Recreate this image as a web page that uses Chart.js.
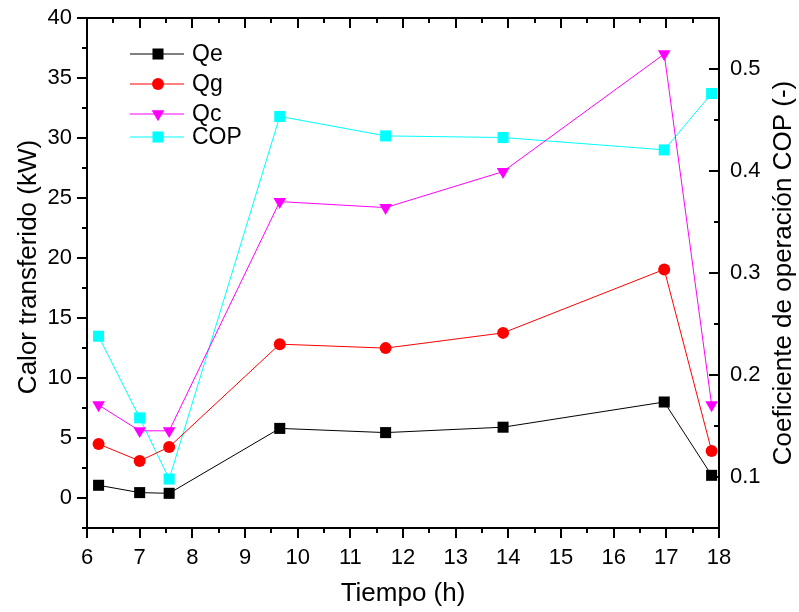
<!DOCTYPE html>
<html>
<head>
<meta charset="utf-8">
<script src="https://cdn.jsdelivr.net/npm/chart.js@4/dist/chart.umd.min.js"></script>
<style>
  html, body { margin: 0; padding: 0; background: #fff; }
  canvas { display: block; }
</style>
</head>
<body>
<canvas id="c" width="799" height="612"></canvas>
<script>
// Hours of the measurement campaign
const hours = [6.22, 7.0, 7.56, 9.66, 11.67, 13.9, 16.96, 17.86];
// Heat transferred (kW)
const qe = [1.06, 0.45, 0.39, 5.8, 5.45, 5.9, 8.0, 1.89];
const qg = [4.5, 3.09, 4.25, 12.82, 12.49, 13.76, 19.05, 3.92];
const qc = [7.75, 5.6, 5.6, 24.7, 24.2, 27.2, 37.0, 7.75];
// Coefficient of performance (-)
const cop = [0.238, 0.158, 0.098, 0.4535, 0.4344, 0.4328, 0.4207, 0.476];

// Tick labels
const xTicks = [6, 7, 8, 9, 10, 11, 12, 13, 14, 15, 16, 17, 18];
const yTicks = [0, 5, 10, 15, 20, 25, 30, 35, 40];
const copTicks = [0.1, 0.2, 0.3, 0.4, 0.5];

const FONT = "'Liberation Sans', Arial, sans-serif";

function pts(ys) { return hours.map((x, i) => ({ x: x, y: ys[i] })); }

const series = [
  { label: 'Qe', data: pts(qe), color: '#000000', style: 'rect', radius: 7.8, rotation: 0, axis: 'y' },
  { label: 'Qg', data: pts(qg), color: '#ff0000', style: 'circle', radius: 6, rotation: 0, axis: 'y' },
  { label: 'Qc', data: pts(qc), color: '#ff00ff', style: 'triangle', radius: 7.3, rotation: 180, axis: 'y' },
  { label: 'COP', data: pts(cop), color: '#00ffff', style: 'rect', radius: 7.8, rotation: 0, axis: 'y2' }
];

const datasets = series.map(s => ({
  label: s.label,
  data: s.data,
  yAxisID: s.axis,
  borderColor: s.color,
  backgroundColor: s.color,
  borderWidth: 1,
  pointStyle: s.style,
  pointRadius: s.radius,
  pointHoverRadius: s.radius,
  pointRotation: s.rotation,
  pointBorderWidth: 0,
  pointBackgroundColor: s.color,
  tension: 0
}));

// Frame, inward/outward tick marks, axis titles and the legend
const decor = {
  id: 'decor',
  afterDatasetsDraw(chart) {
    const ctx = chart.ctx;
    const a = chart.chartArea;
    const x = chart.scales.x, y = chart.scales.y, y2 = chart.scales.y2;
    ctx.save();
    ctx.strokeStyle = '#000';
    ctx.lineWidth = 2;
    ctx.strokeRect(a.left, a.top, a.right - a.left, a.bottom - a.top);

    ctx.beginPath();
    for (let v = 6; v <= 18.001; v += 0.5) {
      const px = Math.round(x.getPixelForValue(v));
      const len = Math.abs(v - Math.round(v)) < 1e-6 ? 10 : 5;
      ctx.moveTo(px, a.bottom); ctx.lineTo(px, a.bottom + len);
      ctx.moveTo(px, a.top); ctx.lineTo(px, a.top + len);
    }
    for (let v = -2.5; v <= 40.001; v += 2.5) {
      const py = Math.round(y.getPixelForValue(v));
      const len = Math.abs(v / 5 - Math.round(v / 5)) < 1e-6 ? 10 : 5;
      ctx.moveTo(a.left, py); ctx.lineTo(a.left - len, py);
    }
    for (let k = 1; k <= 11; k++) {
      const v = k * 0.05;
      const py = Math.round(y2.getPixelForValue(v));
      const len = k % 2 === 0 ? 10 : 5;
      ctx.moveTo(a.right, py); ctx.lineTo(a.right - len, py);
    }
    ctx.stroke();

    // axis titles
    ctx.fillStyle = '#000';
    ctx.font = '26px ' + FONT;
    ctx.textAlign = 'center';
    ctx.textBaseline = 'middle';
    const cy = (a.top + a.bottom) / 2;
    ctx.save();
    ctx.translate(29, cy - 6);
    ctx.rotate(-Math.PI / 2);
    ctx.fillText('Calor transferido (kW)', 0, 0);
    ctx.restore();
    ctx.save();
    ctx.translate(784, cy);
    ctx.rotate(-Math.PI / 2);
    ctx.fillText('Coeficiente de operación COP (-)', 0, 0);
    ctx.restore();
    ctx.fillText('Tiempo (h)', (a.left + a.right) / 2, 594);

    // legend
    const rows = [54, 84, 114, 137];
    ctx.font = '23px ' + FONT;
    ctx.textAlign = 'left';
    series.forEach((s, i) => {
      const ly = rows[i];
      ctx.beginPath();
      ctx.strokeStyle = s.color;
      ctx.lineWidth = 1;
      ctx.moveTo(130, ly); ctx.lineTo(184, ly);
      ctx.stroke();
      ctx.fillStyle = s.color;
      Chart.helpers.drawPoint(ctx, {
        pointStyle: s.style, radius: s.radius, rotation: s.rotation, borderWidth: 0
      }, 158, ly);
      ctx.fillStyle = '#000';
      ctx.fillText(s.label, 192, ly + 1);
    });
    ctx.restore();
  }
};

function fixV(width) {
  return s => { s.width = width; s.paddingTop = 0; s.paddingBottom = 0; };
}

new Chart(document.getElementById('c'), {
  type: 'line',
  data: { datasets },
  options: {
    responsive: false,
    devicePixelRatio: 1,
    animation: false,
    layout: { padding: { top: 18, left: 0, right: 0, bottom: 0 } },
    plugins: { legend: { display: false }, tooltip: { enabled: false } },
    scales: {
      x: {
        type: 'linear', position: 'bottom', min: 6, max: 18,
        grid: { display: false, drawTicks: false },
        border: { display: false },
        afterBuildTicks: s => { s.ticks = xTicks.map(v => ({ value: v })); },
        afterFit: s => { s.height = 84; s.paddingLeft = 0; s.paddingRight = 0; },
        ticks: { color: '#000', padding: 17, font: { family: FONT, size: 22 }, maxRotation: 0 }
      },
      y: {
        type: 'linear', position: 'left', min: -2.5, max: 40,
        grid: { display: false, drawTicks: false },
        border: { display: false },
        afterBuildTicks: s => { s.ticks = yTicks.map(v => ({ value: v })); },
        afterFit: fixV(87),
        ticks: { color: '#000', padding: 15, font: { family: FONT, size: 22 } }
      },
      y2: {
        type: 'linear', position: 'right', min: 0.05, max: 0.55,
        grid: { display: false, drawTicks: false },
        border: { display: false },
        afterBuildTicks: s => { s.ticks = copTicks.map(v => ({ value: v })); },
        afterFit: fixV(80),
        ticks: { color: '#000', padding: 11, font: { family: FONT, size: 22 },
                 callback: v => v.toFixed(1) }
      }
    }
  },
  plugins: [decor]
});
</script>
</body>
</html>
